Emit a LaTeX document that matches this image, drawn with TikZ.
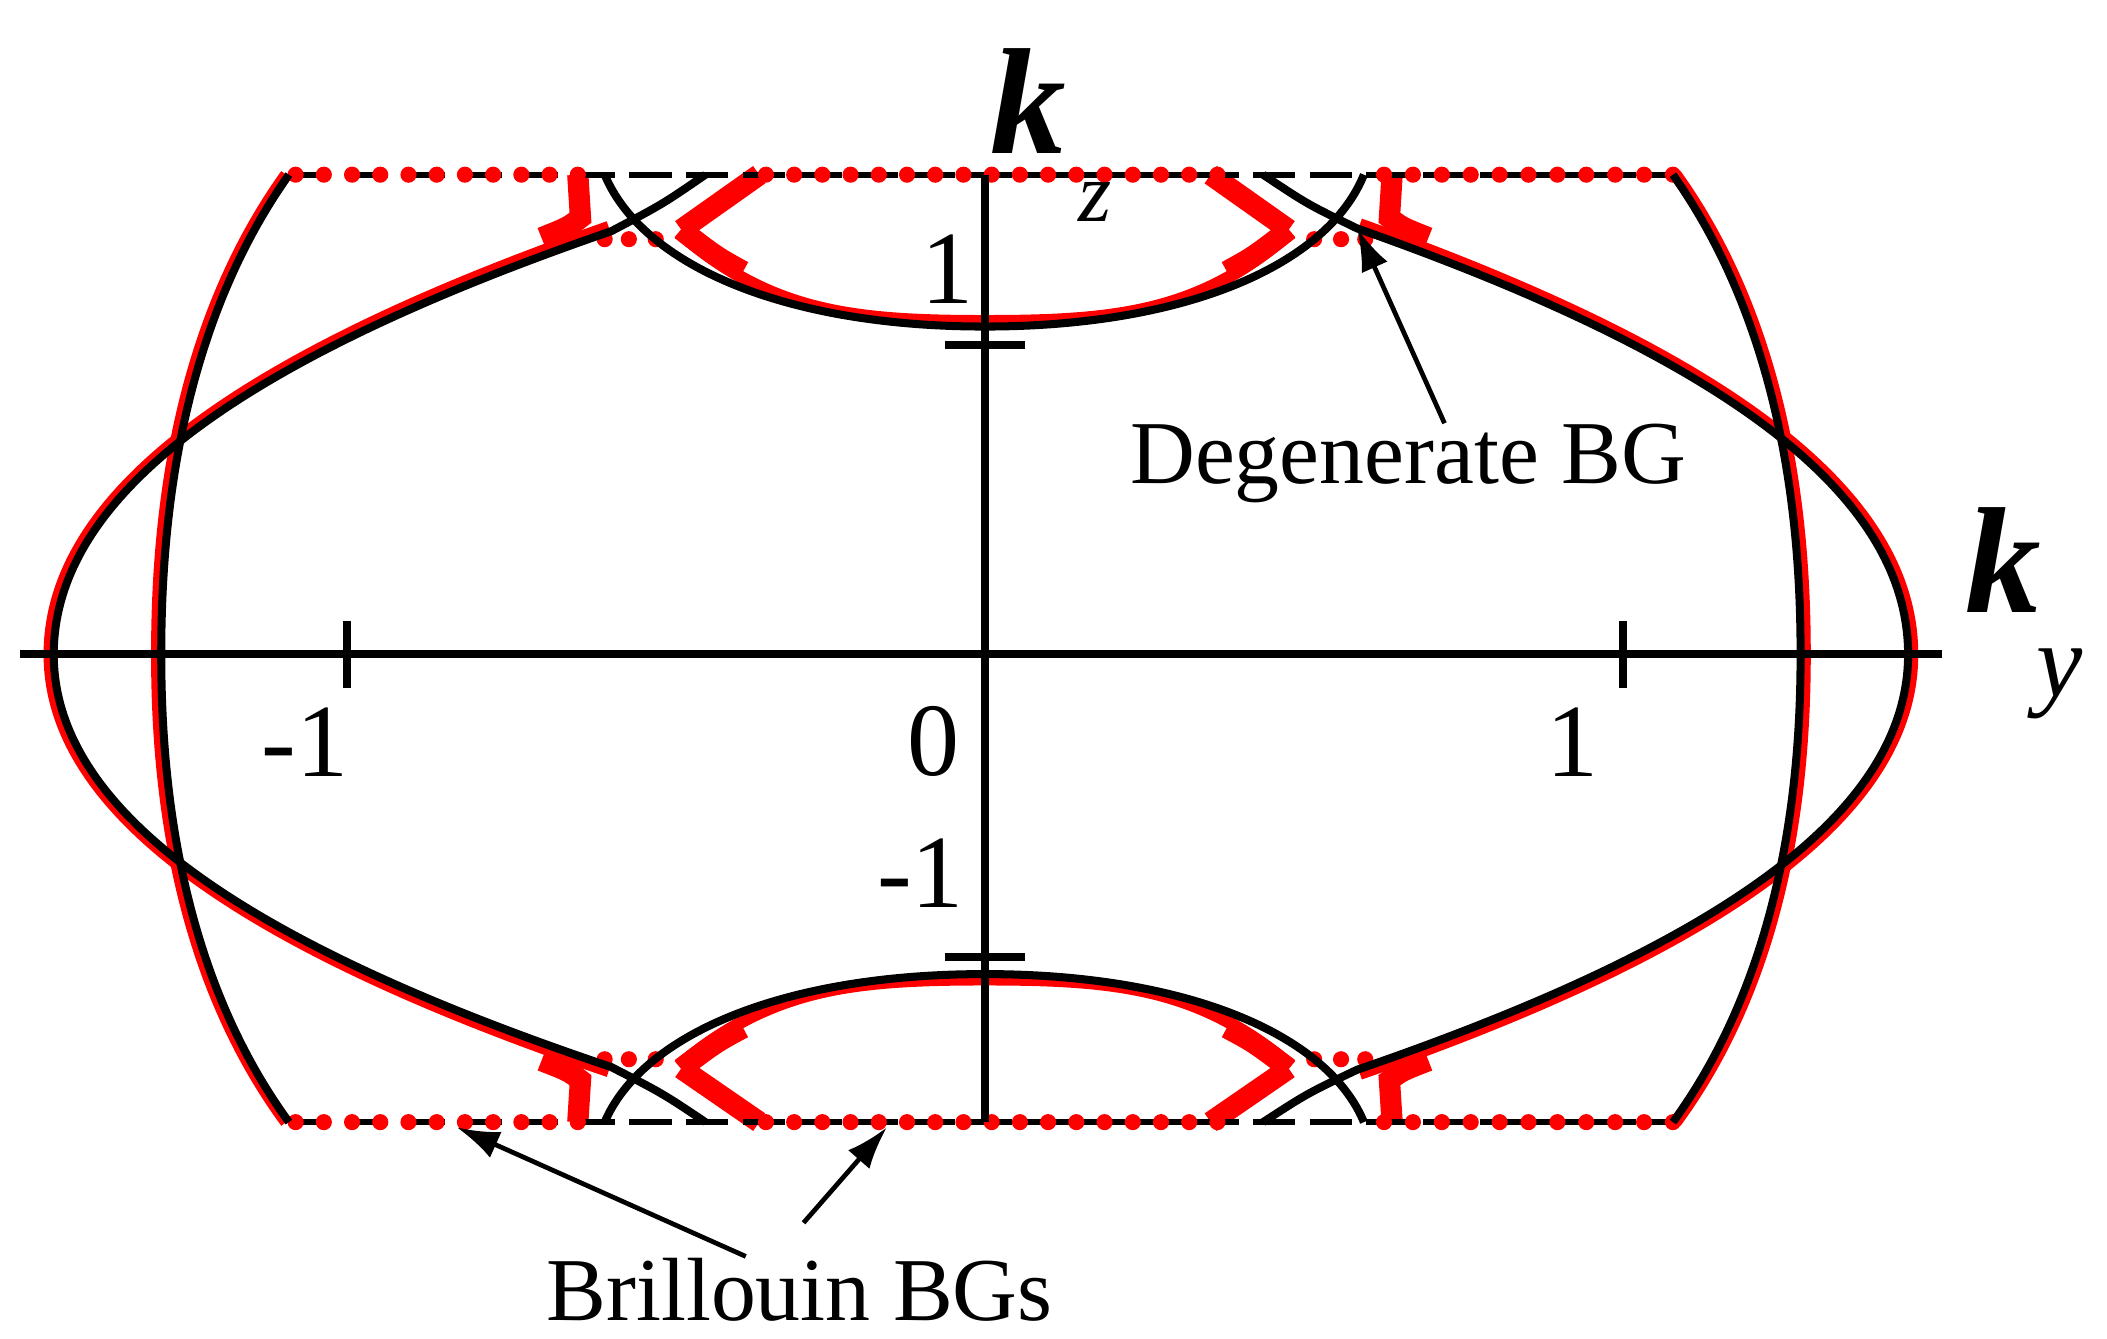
\documentclass[tikz,border=0pt]{standalone}
\usepackage{fontspec}
\setmainfont{Liberation Serif}
\usetikzlibrary{arrows.meta}
\begin{document}
\begin{tikzpicture}[x=0.01cm,y=0.01cm,
  blk/.style={black,line width=1.7pt},
  rd/.style={red,line width=2.6pt},
  rdthick/.style={red,line width=4.5pt},
  dot/.style={circle,fill=red,inner sep=0pt,minimum size=0.12cm},
  lbl/.style={font=\fontsize{22}{22}\selectfont},
  ann/.style={font=\fontsize{19}{19}\selectfont},
  arr/.style={-{Latex[length=9pt,width=6pt]},line width=1pt}]
\useasboundingbox (-733,-509) rectangle (835,487);
\newcommand\halfplot{%
  % red underlays
  \draw[rd] (-520,357) .. controls (-606,237) and (-616,87) .. (-616,0);
  \draw[rd] (514,357) .. controls (600,237) and (610,87) .. (610,0);
  \draw[rd] (-280,318) .. controls (-535,229) and (-696,127) .. (-696,0);
  \draw[rd] (279,320) .. controls (534,229) and (690,127) .. (690,0);
  \draw[rdthick] (-303,357) -- (-301,325) .. controls (-310,318) .. (-330,310);
  \draw[rdthick] (303,357) -- (301,325) .. controls (310,318) .. (330,310);
  \draw[rdthick] (-168,357) -- (-226,316);
  \draw[rdthick] (168,357) -- (226,316);
  \draw[rdthick] (-226,316) .. controls (-200,296) .. (-180,285);
  \draw[rdthick] (226,316) .. controls (200,296) .. (180,285);
  \draw[rd] (-228,314) .. controls (-160,255) and (-100,248) .. (0,248)
            .. controls (100,248) and (160,255) .. (228,314);
  \foreach \x in {-283,-265,-245,245,265,283} \node[dot] at (\x,309) {};
  % dotted lines
  \draw[black,line width=1.3pt,dash pattern=on 9pt off 3pt] (-518,357) -- (512,357);
  \foreach \i in {0,...,10} \node[dot] at (-513+21*\i,357) {};
  \foreach \i in {0,...,16} \node[dot] at (-163+21*\i,357) {};
  \foreach \i in {0,...,10} \node[dot] at (297+21.5*\i,357) {};
  % black curves
  \draw[blk] (-518,357) .. controls (-603,237) and (-613,87) .. (-613,0);
  \draw[blk] (512,357) .. controls (597,237) and (607,87) .. (607,0);
  \draw[blk] (-208,357) .. controls (-240,335) .. (-278,315)
     .. controls (-533,227) and (-693,127) .. (-693,0);
  \draw[blk] (207,357) .. controls (240,335) .. (277,317)
     .. controls (532,227) and (687,127) .. (687,0);
  \draw[blk] (-283,357) .. controls (-255,290) and (-150,244) .. (0,244)
     .. controls (150,244) and (255,290) .. (282,357);
}
\halfplot
\begin{scope}[yscale=-0.975]\halfplot\end{scope}
% axes
\draw[blk] (-718,0) -- (712,0);
\draw[blk] (0,357) -- (0,-348);
\foreach \x in {-475,475} \draw[blk] (\x,-25) -- (\x,25);
\draw[blk] (-30,230) -- (30,230);
\draw[blk] (-30,-225) -- (30,-225);
% labels
\node[lbl] (m1) at (-506,-65) {-1};
\node[lbl] (z0) at (-38,-65) {0};
\node[lbl] (p1) at (437,-65) {1};
\node[lbl] (yp) at (-28,287) {1};
\node[lbl] (ym) at (-48,-163) {-1};
\node[font=\fontsize{32}{32}\selectfont\bfseries\itshape] (kz) at (32,412) {k};
\node[font=\fontsize{18}{18}\selectfont\itshape] (z) at (82,337) {z};
\node[font=\fontsize{32}{32}\selectfont\bfseries\itshape] (ky) at (758,70) {k};
\node[font=\fontsize{22}{22}\selectfont\itshape] (y) at (800,-22) {y};
\node[ann] (deg) at (315,142) {Degenerate BG};
\coordinate (degt) at (277,317);
\draw[arr] (342,172) -- (degt);
\node[ann] (bri) at (-138,-473) {Brillouin BGs};
\coordinate (b1) at (-393,-352);
\coordinate (b2) at (-73,-352);
\draw[arr] (-178,-448) -- (b1);
\draw[arr] (-135,-423) -- (b2);
\end{tikzpicture}
\end{document}
